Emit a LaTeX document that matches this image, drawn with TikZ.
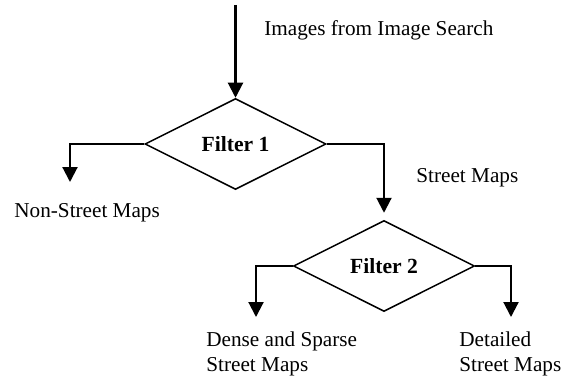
\documentclass[tikz,border=0pt]{standalone}
\usepackage{fontspec}
\setmainfont{Liberation Serif}
\usetikzlibrary{arrows.meta,shapes.geometric}

\begin{document}
\begin{tikzpicture}[x=0.5pt,y=-0.5pt,>={Triangle[width=7.5pt,length=7.5pt]},
 font=\fontsize{10.6}{12.5}\selectfont,
 filt/.style={draw,diamond,aspect=2,line width=0.75pt,minimum width=90.5pt,minimum height=45.5pt,inner sep=0pt,font=\fontsize{10.8}{12.5}\selectfont\bfseries},
 lbl/.style={anchor=west,inner sep=0pt,align=left},
 flow/.style={->,line width=1.05pt}]
\useasboundingbox (0,0) rectangle (565,379);
% the two filters
\node[filt] (f1) at (235.5,144) {Filter 1};
\node[filt] (f2) at (384,266) {Filter 2};
% free ends of the arrows
\coordinate (in) at (235.5,5);
\coordinate (ns) at (70,182);
\coordinate (ds) at (256,317);
\coordinate (dt) at (511,317);
% labels
\node[lbl] (lin) at (264,30) {Images from Image Search};
\node[lbl] (lns) at (14,213) {Non-Street Maps};
\node[lbl] (lsm) at (416,178) {Street Maps};
\node[lbl] (lds) at (206,353.5) {Dense and Sparse\\Street Maps};
\node[lbl] (ldt) at (459,353.5) {Detailed\\Street Maps};
% flow
\draw[flow] (in) -- (f1.north);
\draw[flow] (f1.west) -| (ns);
\draw[flow,shorten >=3.5pt] (f1.east) -| (f2.north);
\draw[flow] (f2.west) -| (ds);
\draw[flow] (f2.east) -| (dt);
\end{tikzpicture}
\end{document}
